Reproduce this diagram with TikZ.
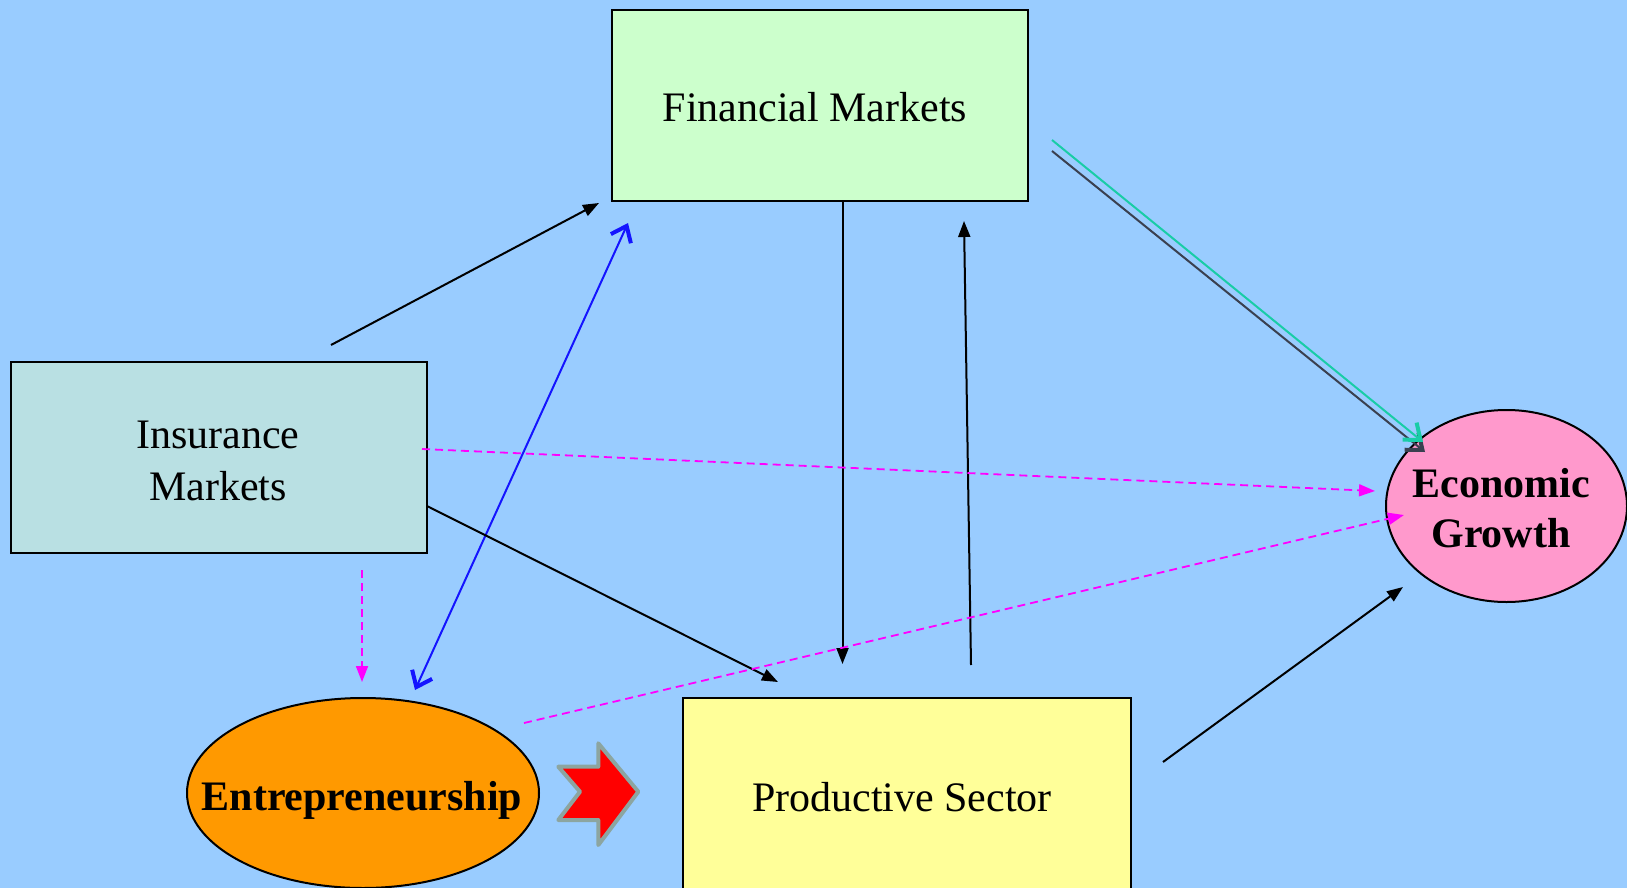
\documentclass[tikz,border=0pt]{standalone}
\usepackage{fontspec}
\setmainfont{Liberation Serif}
\usetikzlibrary{arrows.meta,shapes.geometric}
\definecolor{bg}{RGB}{153,204,255}
\definecolor{finc}{RGB}{204,255,204}
\definecolor{insc}{RGB}{185,224,227}
\definecolor{prodc}{RGB}{255,255,153}
\definecolor{entc}{RGB}{255,153,0}
\definecolor{ecoc}{RGB}{255,153,204}
\definecolor{mag}{RGB}{255,0,255}
\definecolor{bluec}{RGB}{20,20,255}
\definecolor{tealc}{RGB}{25,204,166}
\definecolor{grayl}{RGB}{58,64,80}
\definecolor{redout}{RGB}{140,165,160}
\begin{document}
\begin{tikzpicture}[x=0.5pt,y=-0.5pt,
  box/.style={draw=black, line width=1pt, inner sep=0pt},
  lbl/.style={font=\fontsize{21}{26}\selectfont, inner sep=0pt, align=center},
  blbl/.style={font=\fontsize{21}{25}\selectfont\bfseries, inner sep=0pt, align=center},
  arr/.style={line width=1pt, -{Triangle[length=8pt,width=6pt]}},
  dsh/.style={draw=mag, line width=0.9pt, dash pattern=on 4pt off 2.5pt, -{Triangle[length=8pt,width=6pt,fill=mag]}},
  barbtip/.tip={Straight Barb[length=7pt,width=11pt,line width=2pt]}]
\useasboundingbox[fill=bg] (0,0) rectangle (1627,888);

% nodes
\node[box, fill=finc, minimum width=208pt, minimum height=95.5pt] (fin) at (820,105.5) {};
\node[lbl, anchor=base] (fint) at (815,122) {Financial Markets};
\node[box, fill=insc, minimum width=208pt, minimum height=95.5pt] (ins) at (219,457.5) {};
\node[lbl, anchor=base] (inst) at (218,500) {Insurance\\Markets};
\node[box, fill=prodc, minimum width=224pt, minimum height=99pt] (prod) at (907,797) {};
\node[lbl, anchor=base] (prodt) at (902,811) {Productive Sector};
\node[draw=black, line width=1pt, fill=entc, ellipse, minimum width=176pt, minimum height=95pt, inner sep=0pt] (ent) at (363,793) {};
\node[blbl, anchor=base] (entt) at (362,810) {Entrepreneurship};
\node[draw=black, line width=1pt, fill=ecoc, ellipse, minimum width=120.5pt, minimum height=96pt, inner sep=0pt] (eco) at (1506.5,506) {};
\node[blbl, anchor=base] (ecot) at (1501,547) {Economic\\Growth};

% connector end points
\coordinate (a1s) at (331,345);   \coordinate (a1e) at (599,203);
\coordinate (b1s) at (415,690);   \coordinate (b1e) at (628,223);
\coordinate (a3s) at (842.5,201); \coordinate (a3e) at (842.5,664);
\coordinate (a4s) at (971,665);   \coordinate (a4e) at (964,221);
\coordinate (a5s) at (427,506);   \coordinate (a5e) at (778,682);
\coordinate (d6s) at (422,449);   \coordinate (d6e) at (1375,491);
\coordinate (d7s) at (362,570);   \coordinate (d7e) at (362,682);
\coordinate (d8s) at (524,723);   \coordinate (d8e) at (1404,515);
\coordinate (a9s) at (1163,762);  \coordinate (a9e) at (1403,587);
\coordinate (t1s) at (1052,140);  \coordinate (t1e) at (1423,442);
\coordinate (g1s) at (1052,151);  \coordinate (g1e) at (1425,452);

% connectors
\draw[arr] (a1s) -- (a1e);
\draw[draw=bluec, line width=1pt, barbtip-barbtip] (b1s) -- (b1e);
\draw[arr] (a3s) -- (a3e);
\draw[arr] (a4s) -- (a4e);
\draw[arr] (a5s) -- (a5e);
\draw[dsh] (d6s) -- (d6e);
\draw[dsh] (d7s) -- (d7e);
\draw[dsh] (d8s) -- (d8e);
\draw[arr] (a9s) -- (a9e);
\draw[draw=grayl, line width=1pt, -barbtip] (g1s) -- (g1e);
\draw[draw=tealc, line width=1pt, -barbtip] (t1s) -- (t1e);

% red block arrow
\draw[fill=red, draw=redout, line width=2pt, line join=round]
  (558.3,766.7) -- (598.3,766.7) -- (598.3,743.3) -- (638.3,791.7) -- (598.3,845)
  -- (598.3,820) -- (558.3,820) -- (580,791.7) -- cycle;
\end{tikzpicture}
\end{document}
